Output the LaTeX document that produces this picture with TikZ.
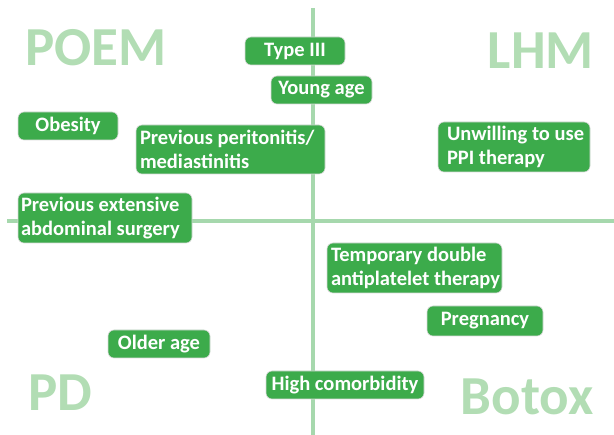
\documentclass[tikz,border=0pt]{standalone}
\usepackage{fontspec}
\setmainfont{Carlito}
\definecolor{boxgreen}{HTML}{3CAB4B}
\definecolor{axisgreen}{HTML}{A6D8AD}
\definecolor{quadgreen}{HTML}{B2DDB4}
\begin{document}
\begin{tikzpicture}[x=1pt,y=-1pt,
  item/.style={fill=boxgreen, draw=black!15, line width=0.6pt, rounded corners=6pt,
    text=white, font=\bfseries\fontsize{20.5}{24.5}\selectfont, align=center,
    inner sep=0pt, anchor=center},
  twoline/.style={item, align=flush left, inner xsep=4pt, text width=#1},
  quad/.style={text=quadgreen, font=\bfseries\fontsize{55}{55}\selectfont, inner sep=0pt},
  axis/.style={draw=axisgreen, line width=3.2pt}]
\useasboundingbox (0,0) rectangle (614,435);
\coordinate (vt) at (313,8);
\coordinate (vb) at (313,435);
\coordinate (hl) at (7,221);
\coordinate (hr) at (614,221);
\draw[axis] (vt) -- (vb);
\draw[axis] (hl) -- (hr);
\node[quad] (poem) at (96,48) {POEM};
\node[quad] (lhm) at (541,51) {LHM};
\node[quad] (pd) at (60,393) {PD};
\node[quad] (botox) at (527,397) {Botox};
\node[item, minimum width=100pt, minimum height=28pt] (type) at (295,51) {Type III};
\node[item, minimum width=101pt, minimum height=28pt] (young) at (321.5,90) {Young age};
\node[item, minimum width=100pt, minimum height=28pt] (obes) at (68,126) {Obesity};
\node[twoline=181pt, minimum height=49pt] (perit) at (230.5,149.5) {\mbox{Previous peritonitis/}\\\mbox{mediastinitis}};
\node[twoline=134pt, inner xsep=9pt, minimum height=50pt] (ppi) at (514,147) {\mbox{Unwilling to use}\\\mbox{PPI therapy}};
\node[twoline=168pt, inner xsep=3pt, minimum height=50pt] (surg) at (105,218) {\mbox{Previous extensive}\\\mbox{abdominal surgery}};
\node[twoline=167pt, minimum height=50pt] (antip) at (414.5,268) {\mbox{Temporary double}\\\mbox{antiplatelet therapy}};
\node[item, minimum width=116pt, minimum height=30pt] (preg) at (485,321) {Pregnancy};
\node[item, minimum width=102pt, minimum height=28pt] (older) at (159,344) {Older age};
\node[item, minimum width=158pt, minimum height=28pt] (comor) at (345,385) {High comorbidity};
\end{tikzpicture}
\end{document}
